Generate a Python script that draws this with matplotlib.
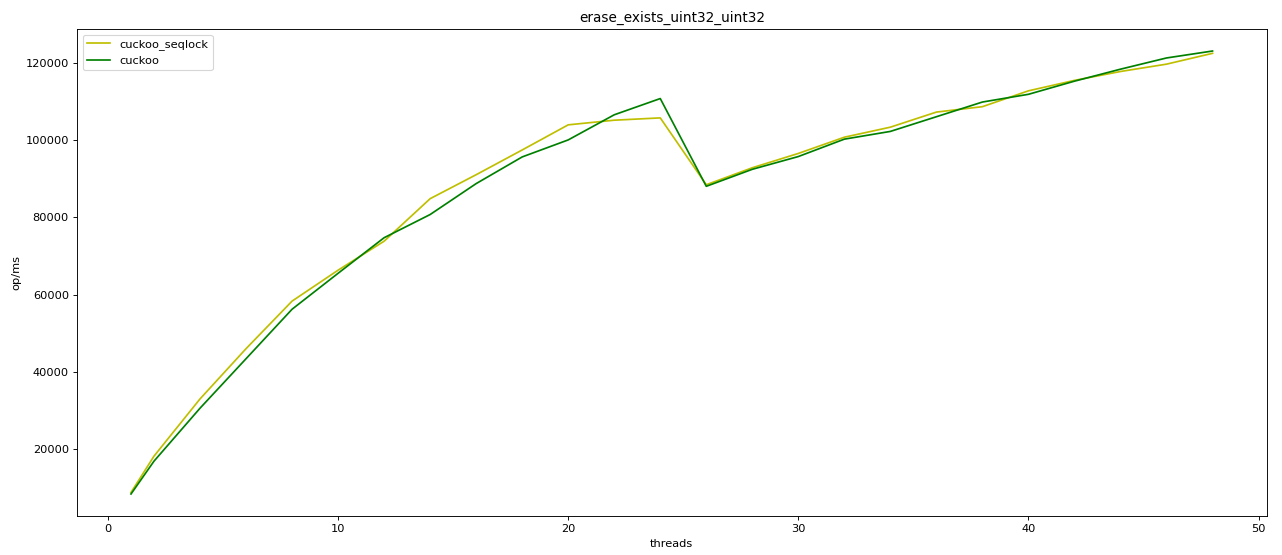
import matplotlib.pyplot as plt

threads = [1, 2, 4, 6, 8, 10, 12, 14, 16, 18, 20, 22, 24, 26, 28, 30, 32, 34, 36, 38, 40, 42, 44, 46, 48]

cuckoo_seqlock = [8800, 18200, 33000, 46000, 58300, 66300, 73800, 84800, 91000, 97400, 103900, 105100, 105700,
                  88400, 92800, 96500, 100700, 103300, 107200, 108600, 112700, 115400, 117700, 119600, 122400]
cuckoo = [8400, 16900, 30600, 43400, 56200, 65500, 74700, 80700, 88700, 95600, 100000, 106500, 110700,
          88000, 92400, 95700, 100200, 102200, 106000, 109800, 111800, 115200, 118300, 121200, 123000]

dpi = 82
fig, ax = plt.subplots(figsize=(1282 / dpi, 555 / dpi), dpi=dpi)
ax.plot(threads, cuckoo_seqlock, color='y', label='cuckoo_seqlock')
ax.plot(threads, cuckoo, color='g', label='cuckoo')
ax.set_title('erase_exists_uint32_uint32')
ax.set_xlabel('threads')
ax.set_ylabel('op/ms')
ax.legend(loc='upper left')
fig.subplots_adjust(left=0.06, right=0.988, top=0.948, bottom=0.07)
fig.savefig('out.png', dpi=dpi)
